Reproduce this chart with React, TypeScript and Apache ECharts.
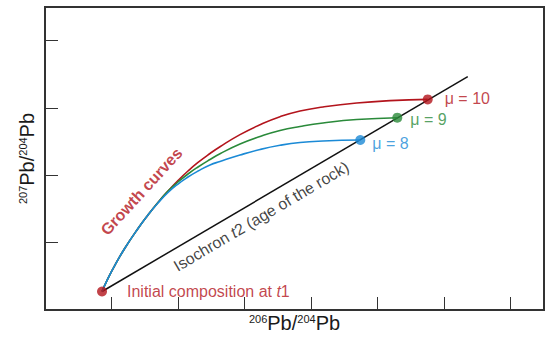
import React, { useEffect, useRef } from "react";
import * as echarts from "echarts";

const RED = "#b3141c";
const GREEN = "#2a8a3a";
const BLUE = "#1b8ad6";

const initialPoint: [number, number] = [0.857, 0.275];
const isochronEnd: [number, number] = [6.354, 3.465];

const commonStart: [number, number][] = [
  [0.857, 0.275],
  [0.947, 0.471],
  [1.052, 0.668],
  [1.202, 0.921],
  [1.398, 1.21],
  [1.548, 1.411],
];
const redCurve: [number, number][] = [
  [1.698, 1.597],
  [1.849, 1.767],
  [1.999, 1.923],
  [2.149, 2.064],
  [2.3, 2.191],
  [2.48, 2.324],
  [2.63, 2.425],
  [2.931, 2.604],
  [3.232, 2.752],
  [3.532, 2.871],
  [3.833, 2.956],
  [4.178, 3.015],
  [4.685, 3.074],
  [5.186, 3.109],
  [5.752, 3.128],
];
const greenCurve: [number, number][] = [
  [1.698, 1.597],
  [1.849, 1.767],
  [1.999, 1.901],
  [2.149, 2.02],
  [2.3, 2.124],
  [2.48, 2.235],
  [2.63, 2.32],
  [2.931, 2.465],
  [3.232, 2.577],
  [3.532, 2.666],
  [3.833, 2.725],
  [4.178, 2.777],
  [4.685, 2.829],
  [5.295, 2.856],
];
const blueCurve: [number, number][] = [
  [1.698, 1.589],
  [1.849, 1.745],
  [1.999, 1.871],
  [2.149, 1.975],
  [2.3, 2.064],
  [2.48, 2.154],
  [2.63, 2.206],
  [2.931, 2.302],
  [3.232, 2.384],
  [3.532, 2.446],
  [3.833, 2.488],
  [4.178, 2.51],
  [4.739, 2.525],
];
const muLabels = ["μ = 10", "μ = 9", "μ = 8"];
const growthLabelPos: [number, number] = [1.45, 1.76];
const isochronLabelPos: [number, number] = [3.25, 1.39];

const FONT = "'Liberation Sans', Arial, sans-serif";

export default function App() {
  const ref = useRef<HTMLDivElement>(null);
  useEffect(() => {
    if (!ref.current) return;
    const chart = echarts.init(ref.current, undefined, { renderer: "svg" });
    const curve = (data: [number, number][], color: string) => ({
      type: "line",
      data: [...commonStart, ...data],
      smooth: 0.5,
      symbol: "none",
      lineStyle: { color, width: 1.6 },
      z: 3,
    });
    const end = (arr: [number, number][]) => arr[arr.length - 1];
    const axisName = (a: string, b: string) =>
      `{sup|${a}}{big|Pb/}{sup|${b}}{big|Pb}`;
    const nameRich = {
      sup: { fontSize: 11, fontFamily: FONT, color: "#1a1a1a", verticalAlign: "top" },
      big: { fontSize: 20, fontFamily: FONT, color: "#1a1a1a", verticalAlign: "bottom" },
    };
    chart.setOption({
      animation: false,
      grid: {
        left: 45,
        right: 2,
        top: 7,
        bottom: 29,
        show: true,
        borderColor: "#333",
        borderWidth: 2,
        outerBoundsMode: "none",
        containLabel: false,
      },
      xAxis: {
        type: "value",
        min: 0,
        max: 7.5,
        interval: 1,
        name: axisName("206", "204"),
        nameLocation: "middle",
        nameGap: 3,
        nameTextStyle: { rich: nameRich },
        axisLine: { show: true, lineStyle: { color: "#333", width: 2 } },
        axisTick: { show: true, inside: true, length: 13, lineStyle: { color: "#333", width: 1 } },
        axisLabel: { show: false },
        splitLine: { show: false },
      },
      yAxis: {
        type: "value",
        min: 0,
        max: 4.5,
        interval: 1,
        name: axisName("207", "204"),
        nameLocation: "middle",
        nameGap: 8,
        nameRotate: 90,
        nameTextStyle: { rich: nameRich },
        axisLine: { show: true, lineStyle: { color: "#333", width: 2 } },
        axisTick: { show: true, inside: true, length: 13, lineStyle: { color: "#333", width: 1 } },
        axisLabel: { show: false },
        splitLine: { show: false },
      },
      series: [
        {
          type: "line",
          data: [initialPoint, isochronEnd],
          symbol: "none",
          lineStyle: { color: "#111", width: 1.5 },
          z: 2,
        },
        curve(redCurve, RED),
        curve(greenCurve, GREEN),
        curve(blueCurve, BLUE),
        {
          type: "scatter",
          symbolSize: 10,
          z: 5,
          data: [
            {
              value: initialPoint,
              itemStyle: { color: RED },
              label: {
                show: true,
                position: "right",
                distance: 20,
                formatter: "{n|Initial composition at }{i|t}{n|1}",
                rich: {
                  n: { fontSize: 16, fontFamily: FONT, color: RED },
                  i: { fontSize: 16, fontFamily: FONT, color: RED, fontStyle: "italic" },
                },
              },
            },
            {
              value: end(redCurve),
              itemStyle: { color: RED },
              label: { show: true, position: "right", distance: 12, formatter: muLabels[0], color: RED, fontSize: 16, fontFamily: FONT, offset: [0, -1] },
            },
            {
              value: end(greenCurve),
              itemStyle: { color: GREEN },
              label: { show: true, position: "right", distance: 8, formatter: muLabels[1], color: GREEN, fontSize: 16, fontFamily: FONT, offset: [0, 2] },
            },
            {
              value: end(blueCurve),
              itemStyle: { color: BLUE },
              label: { show: true, position: "right", distance: 7, formatter: muLabels[2], color: BLUE, fontSize: 16, fontFamily: FONT, offset: [0, 4] },
            },
          ],
        },
        {
          type: "scatter",
          symbolSize: 0,
          silent: true,
          z: 6,
          data: [
            {
              value: growthLabelPos,
              label: {
                show: true,
                position: "inside",
                rotate: 47.5,
                formatter: "Growth curves",
                color: RED,
                fontSize: 16,
                fontWeight: "bold",
                fontFamily: FONT,
              },
            },
            {
              value: isochronLabelPos,
              label: {
                show: true,
                position: "inside",
                rotate: 30.5,
                formatter: "{n|Isochron }{i|t}{n|2 (age of the rock)}",
                rich: {
                  n: { fontSize: 16, fontFamily: FONT, color: "#111" },
                  i: { fontSize: 16, fontFamily: FONT, color: "#111", fontStyle: "italic" },
                },
              },
            },
          ],
        },
      ],
    });
    return () => chart.dispose();
  }, []);
  return <div ref={ref} style={{ width: 546, height: 339, position: "absolute", left: 0, top: 0 }} />;
}
